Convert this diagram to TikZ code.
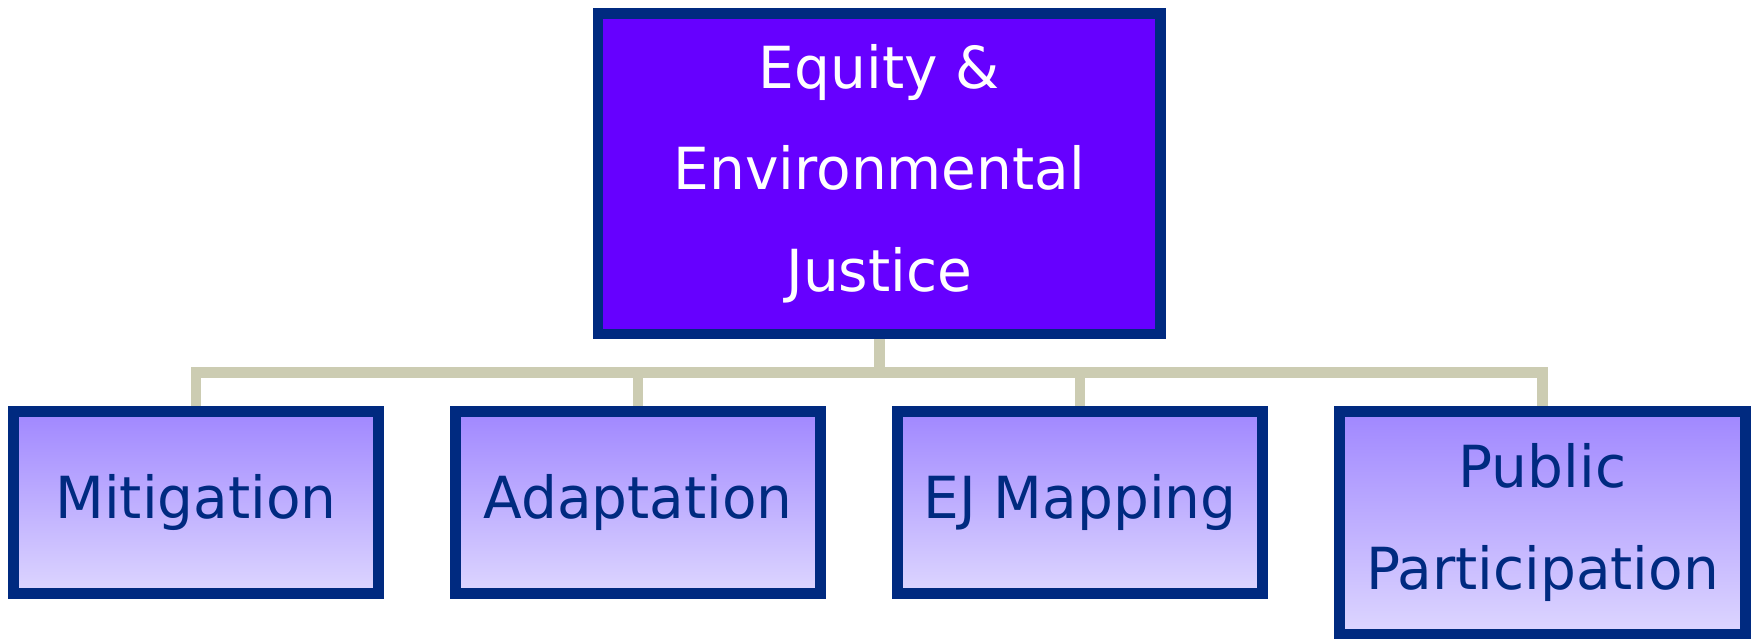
\documentclass[tikz,border=0pt]{standalone}
\usepackage{fontspec}
\setmainfont{DejaVu Sans}[FakeStretch=0.975]
\usetikzlibrary{backgrounds}
\definecolor{borderblue}{RGB}{0,42,128}
\definecolor{topfill}{RGB}{102,0,255}
\definecolor{gradtop}{RGB}{160,135,255}
\definecolor{gradbot}{RGB}{221,214,255}
\definecolor{connbeige}{RGB}{204,204,178}
\tikzset{
  boxbase/.style={draw=borderblue, line width=3.05pt, inner sep=0pt, align=center,
    font=\fontsize{16.5}{29}\selectfont},
  topbox/.style={boxbase, fill=topfill, text=white, minimum width=5.627cm, minimum height=3.206cm},
  subbox/.style={boxbase, top color=gradtop, bottom color=gradbot, text=borderblue,
    minimum width=3.652cm, minimum height=1.823cm},
  pubbox/.style={subbox, minimum width=4.063cm, minimum height=2.228cm},
  conn/.style={draw=connbeige, line width=3pt}
}
\begin{document}
\begin{tikzpicture}
\useasboundingbox (0,0) rectangle (17.56,-6.40);
\node[topbox] (top) at (8.793,-1.737) {Equity \&\\Environmental\\Justice};
\node[subbox] (mit) at (1.96,-5.025) {Mitigation};
\node[subbox] (ada) at (6.38,-5.025) {Adaptation};
\node[subbox] (ejm) at (10.80,-5.025) {EJ Mapping};
\node[pubbox] (pub) at (15.425,-5.227) {Public\\Participation};
\coordinate (bus) at (8.793,-3.725);
\begin{scope}[on background layer]
\draw[conn] (top.south) -- (bus);
\draw[conn] (mit.north) -- (mit.north |- bus) -- (pub.north |- bus) -- (pub.north);
\draw[conn] (ada.north) -- (ada.north |- bus);
\draw[conn] (ejm.north) -- (ejm.north |- bus);
\end{scope}
\end{tikzpicture}
\end{document}
